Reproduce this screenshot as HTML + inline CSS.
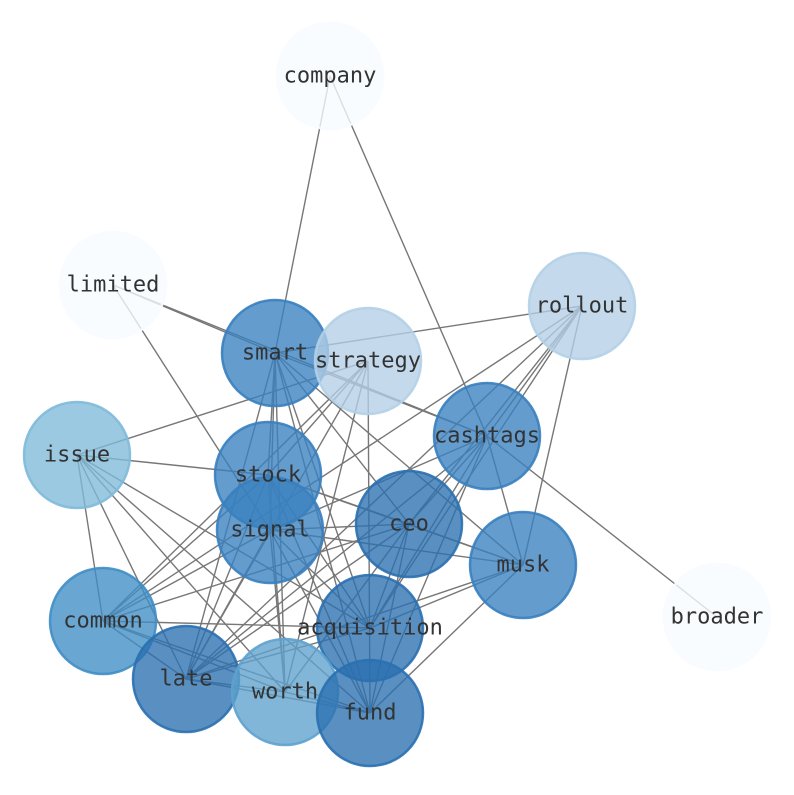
<!DOCTYPE html>
<html><head><meta charset="utf-8"><style>
html,body{margin:0;padding:0;background:#fff;}
svg text{font-family:"DejaVu Sans Mono","Liberation Mono",monospace;font-size:22px;fill:#333;text-anchor:middle;dominant-baseline:central;}
</style></head><body>
<svg width="794" height="790" viewBox="0 0 794 790" xmlns="http://www.w3.org/2000/svg">
<g stroke="#777" stroke-width="1.4" id="edges"></g>
<g id="nodes"></g>
<g id="labels"></g>
</svg>
<script>
const N={
company:[330,76,'#f7fbff'],limited:[113,285,'#f7fbff'],rollout:[582,306,'#b3d0e7'],
smart:[275,353,'#3880bf'],strategy:[368,361,'#b3d0e7'],cashtags:[487,436,'#3880bf'],
issue:[77,455,'#80bada'],stock:[268,475,'#3880bf'],signal:[270,530,'#3880bf'],
ceo:[409,524,'#2a70b0'],musk:[523,565,'#3880bf'],broader:[717,617,'#f7fbff'],
common:[103,621,'#3f8ec5'],acquisition:[370,628,'#2a70b0'],late:[186,679,'#2a70b0'],
worth:[285,692,'#5ea2ce'],fund:[370,713,'#2a70b0']};
const E=`company-smart company-cashtags limited-smart limited-cashtags limited-signal
smart-rollout smart-stock smart-signal smart-late smart-cashtags smart-ceo smart-musk smart-acquisition smart-fund smart-worth
strategy-issue strategy-common strategy-late strategy-stock strategy-fund strategy-worth
rollout-common rollout-cashtags rollout-ceo rollout-acquisition rollout-musk rollout-late
cashtags-ceo cashtags-musk cashtags-broader cashtags-signal cashtags-acquisition cashtags-fund cashtags-late
issue-stock issue-common issue-late issue-worth issue-fund issue-acquisition
stock-ceo stock-musk stock-late stock-worth stock-fund stock-acquisition stock-common
signal-ceo signal-musk signal-common signal-late signal-worth signal-fund signal-acquisition
ceo-musk ceo-common ceo-late ceo-acquisition ceo-fund ceo-worth
musk-acquisition musk-fund musk-late
common-acquisition common-late common-worth common-fund
late-worth late-fund late-acquisition worth-fund`.trim().split(/\s+/);
const ns="http://www.w3.org/2000/svg";
const eg=document.getElementById('edges'),ng=document.getElementById('nodes'),lg=document.getElementById('labels');
E.forEach(e=>{const [a,b]=e.split('-');const l=document.createElementNS(ns,'line');
l.setAttribute('x1',N[a][0]);l.setAttribute('y1',N[a][1]);l.setAttribute('x2',N[b][0]);l.setAttribute('y2',N[b][1]);eg.appendChild(l);});
for(const k in N){const [x,y,c]=N[k];const ci=document.createElementNS(ns,'circle');
ci.setAttribute('cx',x);ci.setAttribute('cy',y);ci.setAttribute('r',53);ci.setAttribute('fill',c);
ci.setAttribute('fill-opacity',0.78);ci.setAttribute('stroke',c);ci.setAttribute('stroke-opacity',0.9);ci.setAttribute('stroke-width',2.5);ng.appendChild(ci);
const t=document.createElementNS(ns,'text');t.setAttribute('x',x);t.setAttribute('y',y);t.textContent=k;lg.appendChild(t);}
</script>
</body></html>
